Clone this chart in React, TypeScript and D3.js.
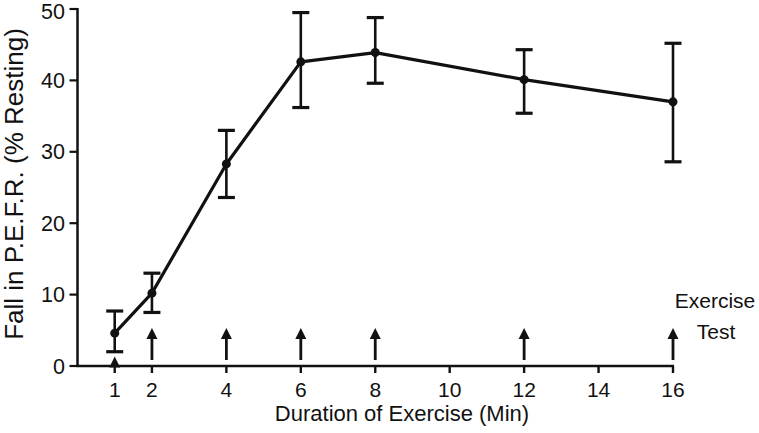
import React from "react";
import * as d3 from "d3";

const minutes = [1, 2, 4, 6, 8, 12, 16];
const fallMean = [4.6, 10.2, 28.3, 42.6, 43.9, 40.1, 37.0];
const fallUpper = [7.7, 13.0, 33.0, 49.5, 48.8, 44.3, 45.2];
const fallLower = [2.0, 7.5, 23.6, 36.2, 39.6, 35.4, 28.6];
const xTicks = [1, 2, 4, 6, 8, 10, 12, 14, 16];
const yTicks = [0, 10, 20, 30, 40, 50];
const arrowTimes = [1, 2, 4, 6, 8, 12, 16];

const W = 759;
const H = 433;
const FONT = "'Liberation Sans', Arial, Helvetica, sans-serif";

export default function App() {
  const x = d3.scaleLinear().domain([0, 16]).range([77.5, 673]);
  const y = d3.scaleLinear().domain([0, 50]).range([366, 9]);
  const line = d3
    .line<number>()
    .x((_, i) => x(minutes[i]))
    .y((d) => y(d));

  const T = (props: {
    x: number;
    y: number;
    size: number;
    anchor?: string;
    rotate?: number;
    children: React.ReactNode;
  }) => (
    <text
      transform={`translate(${props.x},${props.y})${props.rotate ? ` rotate(${props.rotate})` : ""}`}
      fontSize={props.size}
      fontFamily={FONT}
      textAnchor={props.anchor || "middle"}
      fill="#111"
    >
      {props.children}
    </text>
  );

  const y0 = y(0);

  return (
    <svg
      width={W}
      height={H}
      style={{ position: "absolute", left: 0, top: 0, background: "#fff" }}
    >
      {/* y axis */}
      <line x1={x(0)} x2={x(0)} y1={y(50) - 1} y2={y0} stroke="#111" strokeWidth={2.5} />
      {yTicks.map((t) => (
        <g key={`yt${t}`}>
          <line x1={x(0) - 8} x2={x(0)} y1={y(t)} y2={y(t)} stroke="#111" strokeWidth={2.2} />
          <T x={65} y={Math.max(y(t) + 7.5, 19)} size={21.5} anchor="end">
            {t}
          </T>
        </g>
      ))}
      {/* x axis */}
      <line x1={x(0) - 1} x2={x(16) + 1} y1={y0} y2={y0} stroke="#111" strokeWidth={2.5} />
      {xTicks.map((t) => (
        <g key={`xt${t}`}>
          <line x1={x(t)} x2={x(t)} y1={y0} y2={y0 + 7} stroke="#111" strokeWidth={2.4} />
          <T x={x(t)} y={397} size={21}>
            {t}
          </T>
        </g>
      ))}
      <T x={402} y={421} size={22}>
        Duration of Exercise (Min)
      </T>
      <T x={23} y={184} size={26} rotate={-90}>
        Fall in P.E.F.R. (% Resting)
      </T>

      {/* arrows */}
      {arrowTimes.map((t) => {
        const cx = x(t);
        const tip = t === 1 ? y0 - 9.5 : y0 - 38;
        const bottom = t === 1 ? y0 : y0 - 6;
        return (
          <g key={`ar${t}`}>
            <line x1={cx} x2={cx} y1={bottom} y2={tip + 6} stroke="#111" strokeWidth={2.8} />
            <path
              d={`M${cx},${tip} L${cx - 5.5},${tip + 11} L${cx + 5.5},${tip + 11} Z`}
              fill="#111"
            />
          </g>
        );
      })}
      <T x={715} y={308} size={21}>
        Exercise
      </T>
      <T x={716} y={339} size={21}>
        Test
      </T>

      {/* error bars */}
      {minutes.map((m, i) => (
        <g key={`eb${m}`} stroke="#111">
          <line x1={x(m)} x2={x(m)} y1={y(fallUpper[i])} y2={y(fallLower[i])} strokeWidth={2.6} />
          <line x1={x(m) - 8.5} x2={x(m) + 8.5} y1={y(fallUpper[i])} y2={y(fallUpper[i])} strokeWidth={3.2} />
          <line x1={x(m) - 8.5} x2={x(m) + 8.5} y1={y(fallLower[i])} y2={y(fallLower[i])} strokeWidth={3.2} />
        </g>
      ))}
      {/* mean line */}
      <path d={line(fallMean) || ""} fill="none" stroke="#111" strokeWidth={3.2} strokeLinejoin="round" />
      {minutes.map((m, i) => (
        <circle key={`pt${m}`} cx={x(m)} cy={y(fallMean[i])} r={4.5} fill="#111" />
      ))}
    </svg>
  );
}
